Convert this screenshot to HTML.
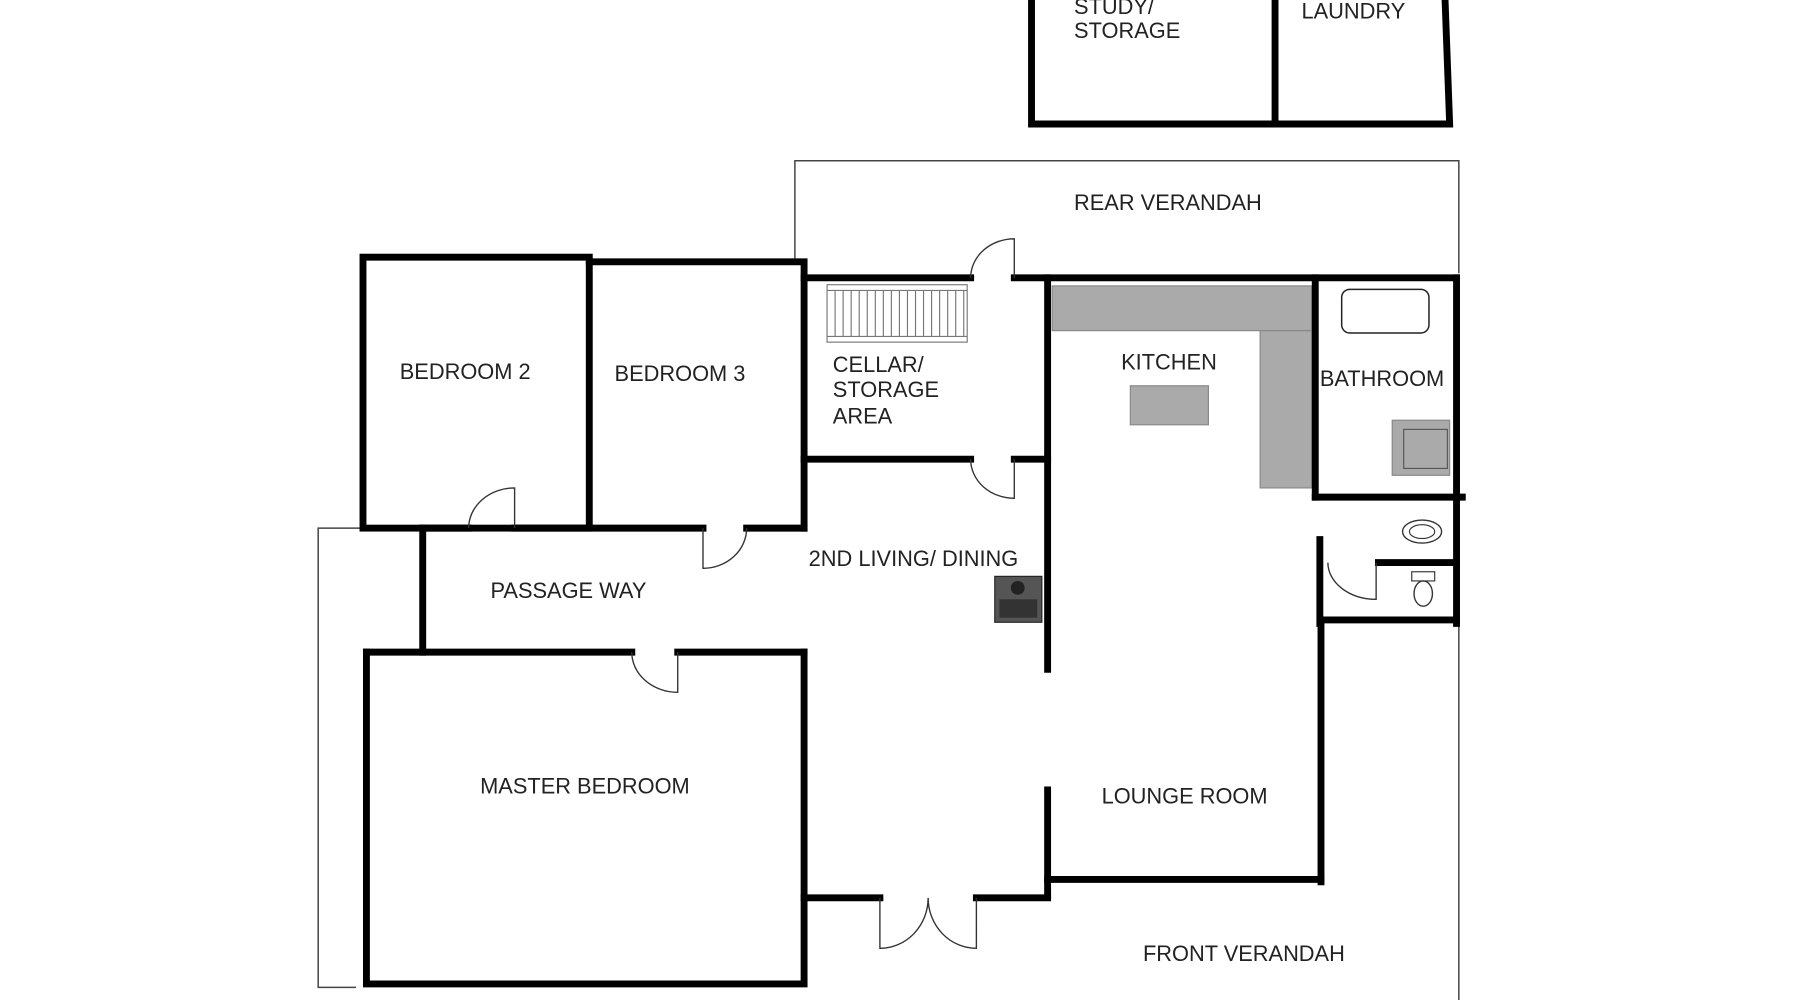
<!DOCTYPE html>
<html><head><style>
html,body{margin:0;padding:0;background:#fff;}
svg{display:block;}
text{font-family:"Liberation Sans",Arial,sans-serif;font-size:19px;fill:#222;}
</style></head><body>
<svg width="1800" height="1000" viewBox="0 0 1567 871" preserveAspectRatio="none" xmlns="http://www.w3.org/2000/svg">
<rect width="1567" height="871" fill="#fff"/>
<g stroke="#444" stroke-width="1.3" fill="none">
<polyline points="692,225 692,140 1270,140 1270,238"/>
<polyline points="316,460 277,460 277,860 310,860"/>
<line x1="1270" y1="543" x2="1270" y2="871"/>
</g>
<g fill="#aaa" stroke="#888" stroke-width="1">
<rect x="916" y="249" width="226" height="39"/>
<rect x="1097" y="288" width="45" height="137"/>
<rect x="984" y="336" width="68" height="34"/>
<rect x="1212" y="366" width="50" height="48"/>
</g>
<rect x="1222" y="374" width="38" height="34" fill="#aaa" stroke="#555" stroke-width="1"/>
<rect x="1168" y="252" width="76" height="38" rx="7" fill="#fff" stroke="#222" stroke-width="1.3"/>
<g stroke="#777" stroke-width="1" fill="none">
<rect x="720" y="248" width="122" height="50"/>
<line x1="720" y1="253" x2="842" y2="253"/><line x1="720" y1="293" x2="842" y2="293"/>
<path d="M727 253V293M734 253V293M741 253V293M748 253V293M755 253V293M762 253V293M769 253V293M776 253V293M783 253V293M790 253V293M797 253V293M804 253V293M811 253V293M818 253V293M825 253V293M832 253V293M839 253V293"/>
</g>
<g stroke="#000" stroke-width="6" fill="none" stroke-linecap="square">
<polyline points="898,0 898,108 1262,108 1258,0"/>
<line x1="1110" y1="0" x2="1110" y2="108"/>
<rect x="316" y="224" width="197" height="236"/>
<polyline points="513,228 700,228 700,460"/>
<line x1="700" y1="242" x2="845" y2="242"/>
<line x1="883" y1="242" x2="1268" y2="242"/>
<line x1="700" y1="400" x2="845" y2="400"/>
<line x1="883" y1="400" x2="912" y2="400"/>
<line x1="912" y1="242" x2="912" y2="583"/>
<line x1="912" y1="688" x2="912" y2="780"/>
<line x1="1268" y1="242" x2="1268" y2="543"/>
<line x1="1145" y1="242" x2="1145" y2="433"/>
<line x1="1145" y1="433" x2="1273" y2="433"/>
<line x1="1149" y1="470" x2="1149" y2="543"/>
<line x1="1200" y1="490" x2="1268" y2="490"/>
<line x1="1152" y1="540" x2="1268" y2="540"/>
<line x1="1150" y1="540" x2="1150" y2="768"/>
<line x1="912" y1="766" x2="1150" y2="766"/>
<line x1="700" y1="782" x2="766" y2="782"/>
<line x1="850" y1="782" x2="912" y2="782"/>
<line x1="368" y1="460" x2="408" y2="460"/>
<line x1="448" y1="460" x2="612" y2="460"/>
<line x1="650" y1="460" x2="700" y2="460"/>
<line x1="368" y1="460" x2="368" y2="568"/>
<line x1="319" y1="568" x2="550" y2="568"/>
<line x1="590" y1="568" x2="700" y2="568"/>
<polyline points="319,568 319,857 700,857 700,568"/>
</g>
<g stroke="#333" stroke-width="1.2" fill="none">
<path d="M448 460V425A40 35 0 0 0 408 460"/>
<path d="M612 460V495A38 35 0 0 0 650 460"/>
<path d="M590 568V603A40 35 0 0 1 550 568"/>
<path d="M883 242V208A38 34 0 0 0 845 242"/>
<path d="M883 400V434A38 34 0 0 1 845 400"/>
<path d="M766 782V826A42 44 0 0 0 808 782A42 44 0 0 0 850 826V782"/>
<path d="M1198 490V522A42 32 0 0 1 1156 490"/>
</g>
<ellipse cx="1238" cy="463" rx="17" ry="10" fill="none" stroke="#333" stroke-width="1.2"/>
<ellipse cx="1238" cy="463" rx="11" ry="6" fill="none" stroke="#333" stroke-width="1"/>
<rect x="1229" y="498" width="20" height="8" fill="none" stroke="#333"/>
<ellipse cx="1239" cy="517" rx="8" ry="11" fill="none" stroke="#333" stroke-width="1.2"/>
<rect x="866" y="502" width="41" height="40" fill="#555" stroke="#222"/>
<circle cx="886" cy="512" r="6" fill="#222"/>
<rect x="870" y="522" width="33" height="16" fill="#333"/>
<text x="935" y="12">STUDY/</text>
<text x="935" y="33">STORAGE</text>
<text x="1133" y="16">LAUNDRY</text>
<text x="935" y="183">REAR VERANDAH</text>
<text x="348" y="330">BEDROOM 2</text>
<text x="535" y="332">BEDROOM 3</text>
<text x="725" y="324">CELLAR/</text>
<text x="725" y="346">STORAGE</text>
<text x="725" y="369">AREA</text>
<text x="976" y="322">KITCHEN</text>
<text x="1149" y="336">BATHROOM</text>
<text x="704" y="493">2ND LIVING/ DINING</text>
<text x="427" y="521">PASSAGE WAY</text>
<text x="418" y="691">MASTER BEDROOM</text>
<text x="959" y="700">LOUNGE ROOM</text>
<text x="995" y="837">FRONT VERANDAH</text>
</svg>
</body></html>
